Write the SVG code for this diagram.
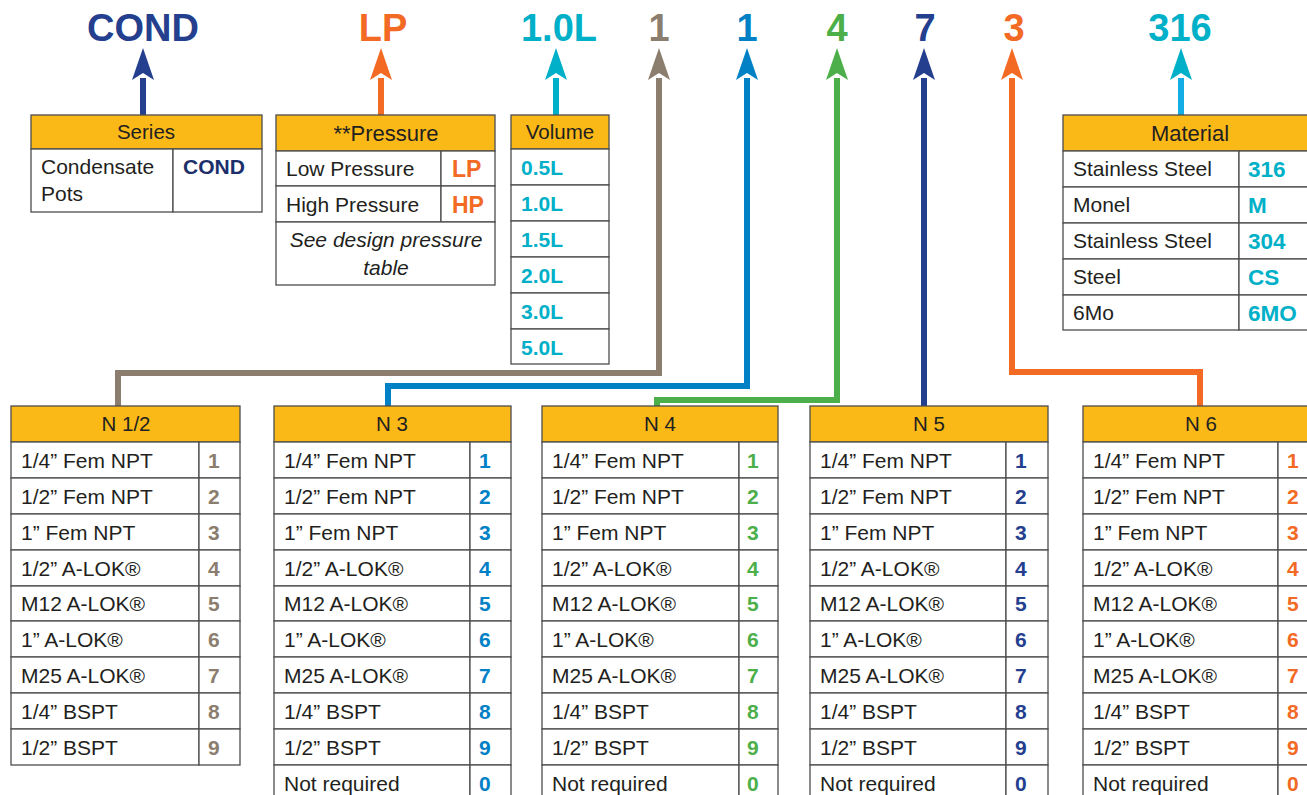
<svg xmlns="http://www.w3.org/2000/svg" xmlns:xlink="http://www.w3.org/1999/xlink" width="1307" height="795" viewBox="0 0 1307 795">
<style>
text{font-family:"Liberation Sans",Arial,sans-serif;fill:#231f20}
.big{font-size:38px;font-weight:bold;text-anchor:middle}
.hdr{fill:#fbb918;stroke:#4d4d4d;stroke-width:1.3}
.cell{fill:#fff;stroke:#4d4d4d;stroke-width:1.3}
.ht{font-size:20.5px;text-anchor:middle}
.ht2{font-size:22px;text-anchor:middle}
.rt{font-size:21px}
.code{font-size:21px;font-weight:bold}
.conn{fill:none;stroke-width:6;stroke-linejoin:miter}
.navy{fill:#253f8f}.orange{fill:#f26a24}.cyan{fill:#00b0c8}.gray{fill:#8b7e6e}.blue{fill:#0081c6}.green{fill:#4caf4a}.dnavy{fill:#1c2f6b}
</style>
<defs>
<path id="ah" d="M0,-28 L11,4 L0,-3 L-11,4 Z"/>
</defs>

<!-- top labels -->
<g id="labels">
<text class="big navy" x="143" y="41">COND</text>
<text class="big orange" x="383" y="41">LP</text>
<text class="big cyan" x="559" y="41">1.0L</text>
<text class="big gray" x="659" y="41">1</text>
<text class="big blue" x="747" y="41">1</text>
<text class="big green" x="837" y="41">4</text>
<text class="big navy" x="925" y="41">7</text>
<text class="big orange" x="1014" y="41">3</text>
<text class="big cyan" x="1180" y="41">316</text>
</g>

<!-- connectors -->
<g id="connectors">
<path class="conn" stroke="#253f8f" d="M143,116 V78"/>
<path class="conn" stroke="#f26a24" d="M381,116 V78"/>
<path class="conn" stroke="#00b0c8" d="M556,116 V78"/>
<path class="conn" stroke="#8b7e6e" d="M118,407 V373 H659 V78"/>
<path class="conn" stroke="#0081c6" d="M388,407 V386 H747 V78"/>
<path class="conn" stroke="#4caf4a" d="M657,407 V400 H837 V78"/>
<path class="conn" stroke="#253f8f" d="M924,407 V78"/>
<path class="conn" stroke="#f26a24" d="M1200,407 V372 H1012 V78"/>
<path class="conn" stroke="#14aee6" d="M1181,116 V78"/>
<use xlink:href="#ah" x="143" y="76" fill="#253f8f"/>
<use xlink:href="#ah" x="381" y="76" fill="#f26a24"/>
<use xlink:href="#ah" x="556" y="76" fill="#00b0c8"/>
<use xlink:href="#ah" x="659" y="76" fill="#8b7e6e"/>
<use xlink:href="#ah" x="747" y="76" fill="#0081c6"/>
<use xlink:href="#ah" x="837" y="76" fill="#4caf4a"/>
<use xlink:href="#ah" x="924" y="76" fill="#253f8f"/>
<use xlink:href="#ah" x="1012" y="76" fill="#f26a24"/>
<use xlink:href="#ah" x="1181" y="76" fill="#00b0c8"/>
</g>

<!-- Series -->
<g id="series">
<rect class="hdr" x="31" y="115" width="231" height="34"/>
<rect class="cell" x="31" y="149" width="142" height="63"/>
<rect class="cell" x="173" y="149" width="89" height="63"/>
<text class="ht" x="146" y="139">Series</text>
<text class="rt" x="41" y="174">Condensate</text>
<text class="rt" x="41" y="201">Pots</text>
<text class="code dnavy" x="183" y="174">COND</text>
</g>

<!-- Pressure -->
<g id="pressure">
<rect class="hdr" x="276" y="115" width="219" height="36"/>
<rect class="cell" x="276" y="151" width="165" height="35"/>
<rect class="cell" x="441" y="151" width="54" height="35"/>
<rect class="cell" x="276" y="186" width="165" height="36"/>
<rect class="cell" x="441" y="186" width="54" height="36"/>
<rect class="cell" x="276" y="222" width="219" height="63"/>
<text class="ht2" x="386" y="141">**Pressure</text>
<text class="rt" x="286" y="176">Low Pressure</text>
<text class="rt" x="286" y="212">High Pressure</text>
<text style="font-size:23px;font-weight:bold" class="orange" x="452" y="177">LP</text>
<text style="font-size:23px;font-weight:bold" class="orange" x="452" y="213">HP</text>
<text class="rt" style="font-style:italic;text-anchor:middle" x="386" y="247">See design pressure</text>
<text class="rt" style="font-style:italic;text-anchor:middle" x="386" y="275">table</text>
</g>

<!-- Volume -->
<g id="volume">
<rect class="hdr" x="511" y="115" width="98" height="34"/>
<rect class="cell" x="511" y="149" width="98" height="36"/>
<rect class="cell" x="511" y="185" width="98" height="36"/>
<rect class="cell" x="511" y="221" width="98" height="36"/>
<rect class="cell" x="511" y="257" width="98" height="36"/>
<rect class="cell" x="511" y="293" width="98" height="36"/>
<rect class="cell" x="511" y="329" width="98" height="35"/>
<text class="ht" x="560" y="139">Volume</text>
<text class="code cyan" x="521" y="175">0.5L</text>
<text class="code cyan" x="521" y="211">1.0L</text>
<text class="code cyan" x="521" y="247">1.5L</text>
<text class="code cyan" x="521" y="283">2.0L</text>
<text class="code cyan" x="521" y="319">3.0L</text>
<text class="code cyan" x="521" y="355">5.0L</text>
</g>

<!-- Material -->
<g id="material">
<rect class="hdr" x="1063" y="115" width="260" height="36"/>
<rect class="cell" x="1063" y="151" width="176" height="36"/>
<rect class="cell" x="1239" y="151" width="84" height="36"/>
<rect class="cell" x="1063" y="187" width="176" height="36"/>
<rect class="cell" x="1239" y="187" width="84" height="36"/>
<rect class="cell" x="1063" y="223" width="176" height="36"/>
<rect class="cell" x="1239" y="223" width="84" height="36"/>
<rect class="cell" x="1063" y="259" width="176" height="36"/>
<rect class="cell" x="1239" y="259" width="84" height="36"/>
<rect class="cell" x="1063" y="295" width="176" height="35"/>
<rect class="cell" x="1239" y="295" width="84" height="35"/>
<text class="ht2" x="1190" y="141">Material</text>
<text class="rt" x="1073" y="176">Stainless Steel</text>
<text class="rt" x="1073" y="212">Monel</text>
<text class="rt" x="1073" y="248">Stainless Steel</text>
<text class="rt" x="1073" y="284">Steel</text>
<text class="rt" x="1073" y="320">6Mo</text>
<text class="code cyan" style="font-size:22.5px" x="1248" y="177">316</text>
<text class="code cyan" style="font-size:22.5px" x="1248" y="213">M</text>
<text class="code cyan" style="font-size:22.5px" x="1248" y="249">304</text>
<text class="code cyan" style="font-size:22.5px" x="1248" y="285">CS</text>
<text class="code cyan" style="font-size:22.5px" x="1248" y="321">6MO</text>
</g>

<!-- N 1/2 -->
<g id="n12">
<rect class="hdr" x="11" y="406" width="229" height="36"/>
<g class="cell">
<rect x="11" y="442" width="188" height="36"/><rect x="199" y="442" width="41" height="36"/>
<rect x="11" y="478" width="188" height="36"/><rect x="199" y="478" width="41" height="36"/>
<rect x="11" y="514" width="188" height="36"/><rect x="199" y="514" width="41" height="36"/>
<rect x="11" y="550" width="188" height="36"/><rect x="199" y="550" width="41" height="36"/>
<rect x="11" y="586" width="188" height="35"/><rect x="199" y="586" width="41" height="35"/>
<rect x="11" y="621" width="188" height="36"/><rect x="199" y="621" width="41" height="36"/>
<rect x="11" y="657" width="188" height="36"/><rect x="199" y="657" width="41" height="36"/>
<rect x="11" y="693" width="188" height="36"/><rect x="199" y="693" width="41" height="36"/>
<rect x="11" y="729" width="188" height="36"/><rect x="199" y="729" width="41" height="36"/>
</g>
<text class="ht" x="126" y="431">N 1/2</text>
<text class="rt" x="21" y="468">1/4” Fem NPT</text>
<text class="rt" x="21" y="504">1/2” Fem NPT</text>
<text class="rt" x="21" y="540">1” Fem NPT</text>
<text class="rt" x="21" y="576">1/2” A-LOK®</text>
<text class="rt" x="21" y="611">M12 A-LOK®</text>
<text class="rt" x="21" y="647">1” A-LOK®</text>
<text class="rt" x="21" y="683">M25 A-LOK®</text>
<text class="rt" x="21" y="719">1/4” BSPT</text>
<text class="rt" x="21" y="755">1/2” BSPT</text>
<text class="code gray" x="208" y="468">1</text>
<text class="code gray" x="208" y="504">2</text>
<text class="code gray" x="208" y="540">3</text>
<text class="code gray" x="208" y="576">4</text>
<text class="code gray" x="208" y="611">5</text>
<text class="code gray" x="208" y="647">6</text>
<text class="code gray" x="208" y="683">7</text>
<text class="code gray" x="208" y="719">8</text>
<text class="code gray" x="208" y="755">9</text>
</g>

<!-- N 3 -->
<g id="n3">
<rect class="hdr" x="274" y="406" width="237" height="36"/>
<g class="cell">
<rect x="274" y="442" width="196" height="36"/><rect x="470" y="442" width="41" height="36"/>
<rect x="274" y="478" width="196" height="36"/><rect x="470" y="478" width="41" height="36"/>
<rect x="274" y="514" width="196" height="36"/><rect x="470" y="514" width="41" height="36"/>
<rect x="274" y="550" width="196" height="36"/><rect x="470" y="550" width="41" height="36"/>
<rect x="274" y="586" width="196" height="35"/><rect x="470" y="586" width="41" height="35"/>
<rect x="274" y="621" width="196" height="36"/><rect x="470" y="621" width="41" height="36"/>
<rect x="274" y="657" width="196" height="36"/><rect x="470" y="657" width="41" height="36"/>
<rect x="274" y="693" width="196" height="36"/><rect x="470" y="693" width="41" height="36"/>
<rect x="274" y="729" width="196" height="36"/><rect x="470" y="729" width="41" height="36"/>
<rect x="274" y="765" width="196" height="40"/><rect x="470" y="765" width="41" height="40"/>
</g>
<text class="ht" x="392" y="431">N 3</text>
<text class="rt" x="284" y="468">1/4” Fem NPT</text>
<text class="rt" x="284" y="504">1/2” Fem NPT</text>
<text class="rt" x="284" y="540">1” Fem NPT</text>
<text class="rt" x="284" y="576">1/2” A-LOK®</text>
<text class="rt" x="284" y="611">M12 A-LOK®</text>
<text class="rt" x="284" y="647">1” A-LOK®</text>
<text class="rt" x="284" y="683">M25 A-LOK®</text>
<text class="rt" x="284" y="719">1/4” BSPT</text>
<text class="rt" x="284" y="755">1/2” BSPT</text>
<text class="rt" x="284" y="791">Not required</text>
<text class="code blue" x="479" y="468">1</text>
<text class="code blue" x="479" y="504">2</text>
<text class="code blue" x="479" y="540">3</text>
<text class="code blue" x="479" y="576">4</text>
<text class="code blue" x="479" y="611">5</text>
<text class="code blue" x="479" y="647">6</text>
<text class="code blue" x="479" y="683">7</text>
<text class="code blue" x="479" y="719">8</text>
<text class="code blue" x="479" y="755">9</text>
<text class="code blue" x="479" y="791">0</text>
</g>

<!-- N 4 -->
<g id="n4">
<rect class="hdr" x="542" y="406" width="236" height="36"/>
<g class="cell">
<rect x="542" y="442" width="197" height="36"/><rect x="739" y="442" width="39" height="36"/>
<rect x="542" y="478" width="197" height="36"/><rect x="739" y="478" width="39" height="36"/>
<rect x="542" y="514" width="197" height="36"/><rect x="739" y="514" width="39" height="36"/>
<rect x="542" y="550" width="197" height="36"/><rect x="739" y="550" width="39" height="36"/>
<rect x="542" y="586" width="197" height="35"/><rect x="739" y="586" width="39" height="35"/>
<rect x="542" y="621" width="197" height="36"/><rect x="739" y="621" width="39" height="36"/>
<rect x="542" y="657" width="197" height="36"/><rect x="739" y="657" width="39" height="36"/>
<rect x="542" y="693" width="197" height="36"/><rect x="739" y="693" width="39" height="36"/>
<rect x="542" y="729" width="197" height="36"/><rect x="739" y="729" width="39" height="36"/>
<rect x="542" y="765" width="197" height="40"/><rect x="739" y="765" width="39" height="40"/>
</g>
<text class="ht" x="660" y="431">N 4</text>
<text class="rt" x="552" y="468">1/4” Fem NPT</text>
<text class="rt" x="552" y="504">1/2” Fem NPT</text>
<text class="rt" x="552" y="540">1” Fem NPT</text>
<text class="rt" x="552" y="576">1/2” A-LOK®</text>
<text class="rt" x="552" y="611">M12 A-LOK®</text>
<text class="rt" x="552" y="647">1” A-LOK®</text>
<text class="rt" x="552" y="683">M25 A-LOK®</text>
<text class="rt" x="552" y="719">1/4” BSPT</text>
<text class="rt" x="552" y="755">1/2” BSPT</text>
<text class="rt" x="552" y="791">Not required</text>
<text class="code green" x="747" y="468">1</text>
<text class="code green" x="747" y="504">2</text>
<text class="code green" x="747" y="540">3</text>
<text class="code green" x="747" y="576">4</text>
<text class="code green" x="747" y="611">5</text>
<text class="code green" x="747" y="647">6</text>
<text class="code green" x="747" y="683">7</text>
<text class="code green" x="747" y="719">8</text>
<text class="code green" x="747" y="755">9</text>
<text class="code green" x="747" y="791">0</text>
</g>

<!-- N 5 -->
<g id="n5">
<rect class="hdr" x="810" y="406" width="238" height="36"/>
<g class="cell">
<rect x="810" y="442" width="196" height="36"/><rect x="1006" y="442" width="42" height="36"/>
<rect x="810" y="478" width="196" height="36"/><rect x="1006" y="478" width="42" height="36"/>
<rect x="810" y="514" width="196" height="36"/><rect x="1006" y="514" width="42" height="36"/>
<rect x="810" y="550" width="196" height="36"/><rect x="1006" y="550" width="42" height="36"/>
<rect x="810" y="586" width="196" height="35"/><rect x="1006" y="586" width="42" height="35"/>
<rect x="810" y="621" width="196" height="36"/><rect x="1006" y="621" width="42" height="36"/>
<rect x="810" y="657" width="196" height="36"/><rect x="1006" y="657" width="42" height="36"/>
<rect x="810" y="693" width="196" height="36"/><rect x="1006" y="693" width="42" height="36"/>
<rect x="810" y="729" width="196" height="36"/><rect x="1006" y="729" width="42" height="36"/>
<rect x="810" y="765" width="196" height="40"/><rect x="1006" y="765" width="42" height="40"/>
</g>
<text class="ht" x="929" y="431">N 5</text>
<text class="rt" x="820" y="468">1/4” Fem NPT</text>
<text class="rt" x="820" y="504">1/2” Fem NPT</text>
<text class="rt" x="820" y="540">1” Fem NPT</text>
<text class="rt" x="820" y="576">1/2” A-LOK®</text>
<text class="rt" x="820" y="611">M12 A-LOK®</text>
<text class="rt" x="820" y="647">1” A-LOK®</text>
<text class="rt" x="820" y="683">M25 A-LOK®</text>
<text class="rt" x="820" y="719">1/4” BSPT</text>
<text class="rt" x="820" y="755">1/2” BSPT</text>
<text class="rt" x="820" y="791">Not required</text>
<text class="code navy" x="1015" y="468">1</text>
<text class="code navy" x="1015" y="504">2</text>
<text class="code navy" x="1015" y="540">3</text>
<text class="code navy" x="1015" y="576">4</text>
<text class="code navy" x="1015" y="611">5</text>
<text class="code navy" x="1015" y="647">6</text>
<text class="code navy" x="1015" y="683">7</text>
<text class="code navy" x="1015" y="719">8</text>
<text class="code navy" x="1015" y="755">9</text>
<text class="code navy" x="1015" y="791">0</text>
</g>

<!-- N 6 -->
<g id="n6">
<rect class="hdr" x="1083" y="406" width="240" height="36"/>
<g class="cell">
<rect x="1083" y="442" width="195" height="36"/><rect x="1278" y="442" width="45" height="36"/>
<rect x="1083" y="478" width="195" height="36"/><rect x="1278" y="478" width="45" height="36"/>
<rect x="1083" y="514" width="195" height="36"/><rect x="1278" y="514" width="45" height="36"/>
<rect x="1083" y="550" width="195" height="36"/><rect x="1278" y="550" width="45" height="36"/>
<rect x="1083" y="586" width="195" height="35"/><rect x="1278" y="586" width="45" height="35"/>
<rect x="1083" y="621" width="195" height="36"/><rect x="1278" y="621" width="45" height="36"/>
<rect x="1083" y="657" width="195" height="36"/><rect x="1278" y="657" width="45" height="36"/>
<rect x="1083" y="693" width="195" height="36"/><rect x="1278" y="693" width="45" height="36"/>
<rect x="1083" y="729" width="195" height="36"/><rect x="1278" y="729" width="45" height="36"/>
<rect x="1083" y="765" width="195" height="40"/><rect x="1278" y="765" width="45" height="40"/>
</g>
<text class="ht" x="1201" y="431">N 6</text>
<text class="rt" x="1093" y="468">1/4” Fem NPT</text>
<text class="rt" x="1093" y="504">1/2” Fem NPT</text>
<text class="rt" x="1093" y="540">1” Fem NPT</text>
<text class="rt" x="1093" y="576">1/2” A-LOK®</text>
<text class="rt" x="1093" y="611">M12 A-LOK®</text>
<text class="rt" x="1093" y="647">1” A-LOK®</text>
<text class="rt" x="1093" y="683">M25 A-LOK®</text>
<text class="rt" x="1093" y="719">1/4” BSPT</text>
<text class="rt" x="1093" y="755">1/2” BSPT</text>
<text class="rt" x="1093" y="791">Not required</text>
<text class="code orange" x="1287" y="468">1</text>
<text class="code orange" x="1287" y="504">2</text>
<text class="code orange" x="1287" y="540">3</text>
<text class="code orange" x="1287" y="576">4</text>
<text class="code orange" x="1287" y="611">5</text>
<text class="code orange" x="1287" y="647">6</text>
<text class="code orange" x="1287" y="683">7</text>
<text class="code orange" x="1287" y="719">8</text>
<text class="code orange" x="1287" y="755">9</text>
<text class="code orange" x="1287" y="791">0</text>
</g>
</svg>
